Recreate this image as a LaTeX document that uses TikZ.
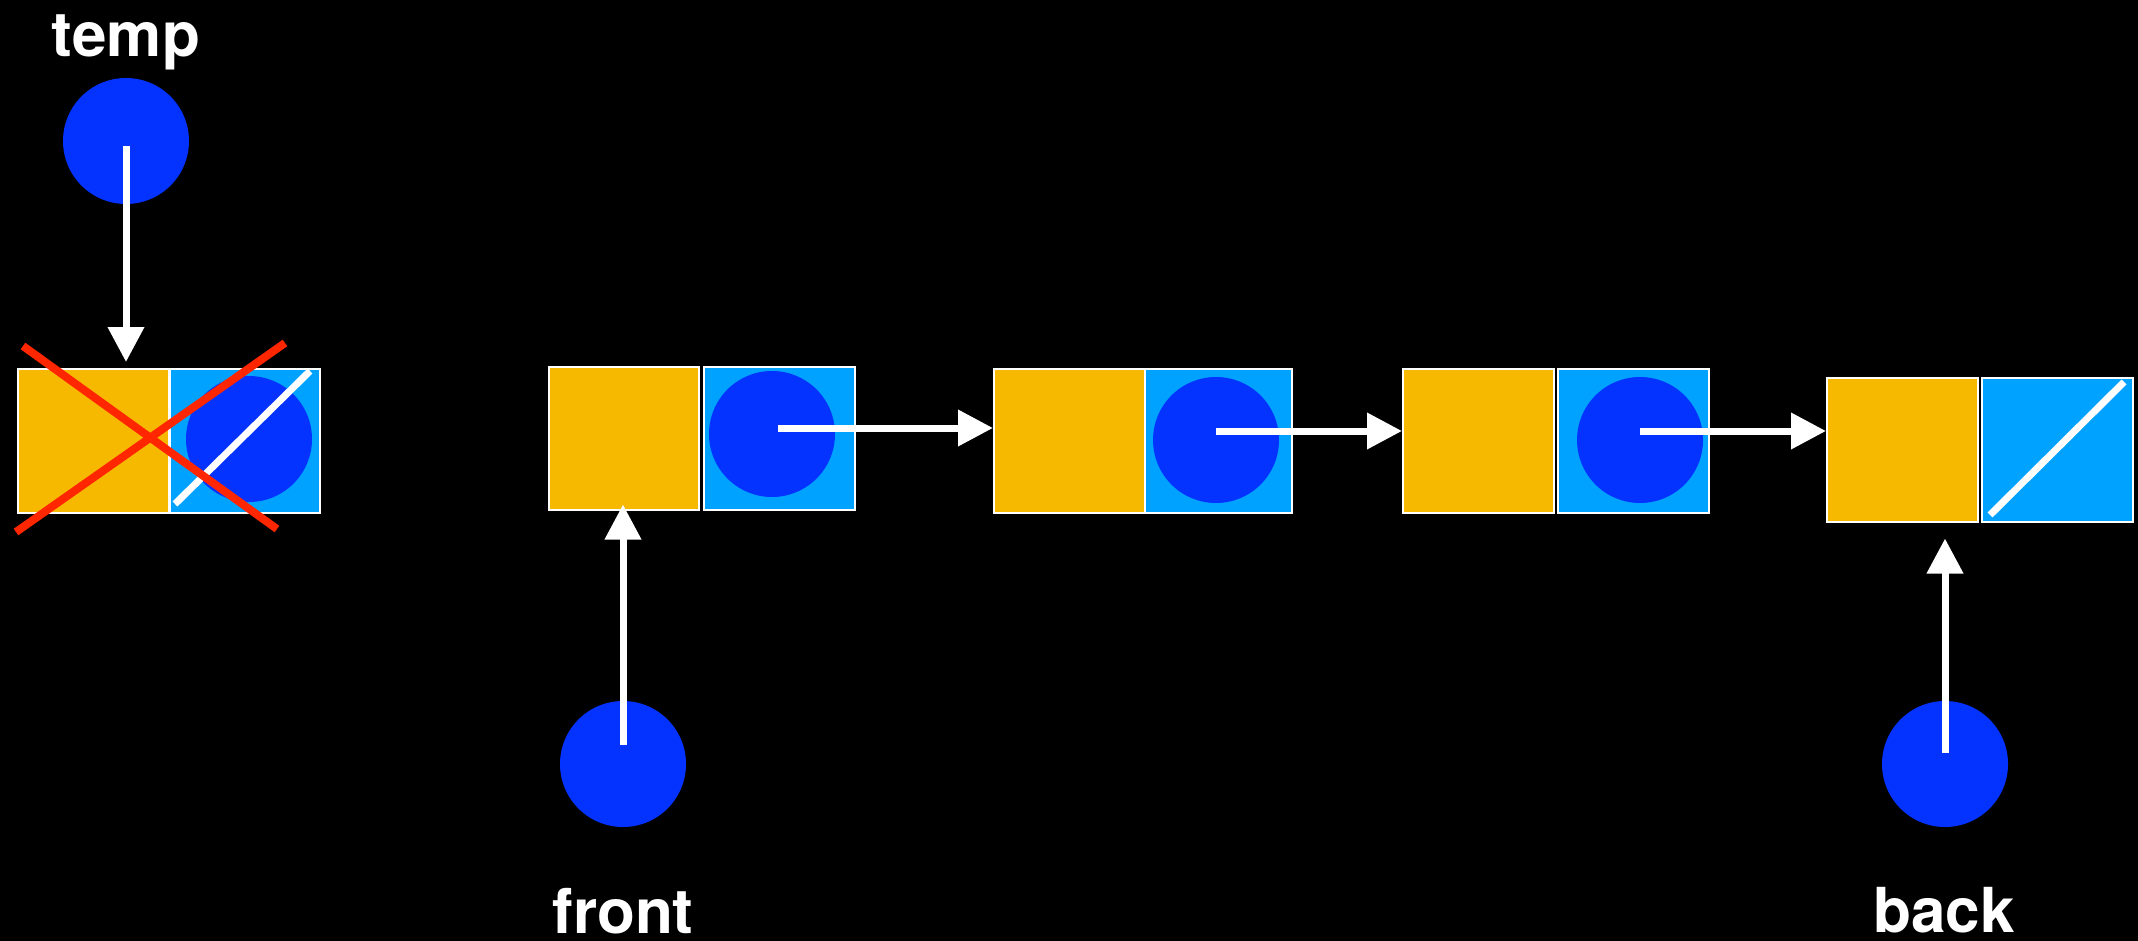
\documentclass[tikz,border=0pt]{standalone}
\usepackage{fontspec}
\setmainfont{TeX Gyre Heros}
\usetikzlibrary{arrows.meta,calc}
\definecolor{celly}{RGB}{246,185,0}
\definecolor{cellc}{RGB}{0,162,255}
\definecolor{dotb}{RGB}{4,51,255}
\definecolor{crossr}{RGB}{255,38,0}
\tikzset{
  ycell/.style={rectangle, fill=celly, draw=white, line width=1.5pt, inner sep=0pt, anchor=north west},
  ccell/.style={rectangle, fill=cellc, draw=white, line width=1.5pt, inner sep=0pt, anchor=north west},
  dot/.style={circle, fill=dotb, draw=none, minimum size=126pt, inner sep=0pt},
  link/.style={draw=white, line width=7pt, -{Triangle[length=35pt,width=35pt]}},
  nullslash/.style={draw=white, line width=7pt},
  crossline/.style={draw=crossr, line width=8pt},
  lbl/.style={text=white, font=\fontsize{62}{62}\selectfont\bfseries, inner sep=0pt, anchor=base}
}
\begin{document}
\begin{tikzpicture}[x=1pt,y=-1pt]
\useasboundingbox[fill=black] (0,0) rectangle (2138,941);
% temp (removed) node
\node[ycell, minimum width=151pt, minimum height=144pt] (ty) at (17,368) {};
\node[ccell, minimum width=150pt, minimum height=144pt] (tcell) at (169,368) {};
\node[dot] (tdot) at (249,439) {};
\draw[nullslash] (175,504) -- (310,371);
\draw[crossline] (23,346) -- (277,529);
\draw[crossline] (285,343) -- (16,532);
% pointer temp
\node[dot] (tc) at (126,141) {};
\node[lbl] (tlabel) at (126,57) {temp};
\draw[link] ($(tc.center)+(0,5)$) -- ($(tc.center |- ty.north)+(0,-6)$);
% node 1
\node[ycell, minimum width=150pt, minimum height=143pt] (n1y) at (548,366) {};
\node[ccell, minimum width=151pt, minimum height=143pt] (n1c) at (703,366) {};
\node[dot] (d1) at (772,434) {};
% node 2
\node[ycell, minimum width=151pt, minimum height=144pt] (n2y) at (993,368) {};
\node[ccell, minimum width=147pt, minimum height=144pt] (n2c) at (1144,368) {};
\node[dot] (d2) at (1216,440) {};
% node 3
\node[ycell, minimum width=151pt, minimum height=144pt] (n3y) at (1402,368) {};
\node[ccell, minimum width=151pt, minimum height=144pt] (n3c) at (1557,368) {};
\node[dot] (d3) at (1640,440) {};
% node 4
\node[ycell, minimum width=151pt, minimum height=144pt] (n4y) at (1826,377) {};
\node[ccell, minimum width=151pt, minimum height=144pt] (n4c) at (1981,377) {};
\draw[nullslash] (1990,515) -- (2124,382);
% links
\coordinate (s1) at ($(d1.center)+(6,-6)$);
\draw[link] (s1) -- (s1 -| n2y.west);
\coordinate (s2) at ($(d2.center)+(0,-9)$);
\draw[link] (s2) -- (s2 -| n3y.west);
\coordinate (s3) at ($(d3.center)+(0,-9)$);
\draw[link] (s3) -- (s3 -| n4y.west);
% front pointer
\node[dot] (fr) at (623,764) {};
\node[lbl] (flabel) at (623,933) {front};
\draw[link] ($(fr.center)+(0,-19)$) -- ($(fr.center |- n1y.south)+(0,-6)$);
% back pointer
\node[dot] (bk) at (1945,764) {};
\node[lbl] (blabel) at (1944,932) {back};
\draw[link] ($(bk.center)+(0,-11)$) -- ($(bk.center |- n4y.south)+(0,16)$);
\end{tikzpicture}
\end{document}
